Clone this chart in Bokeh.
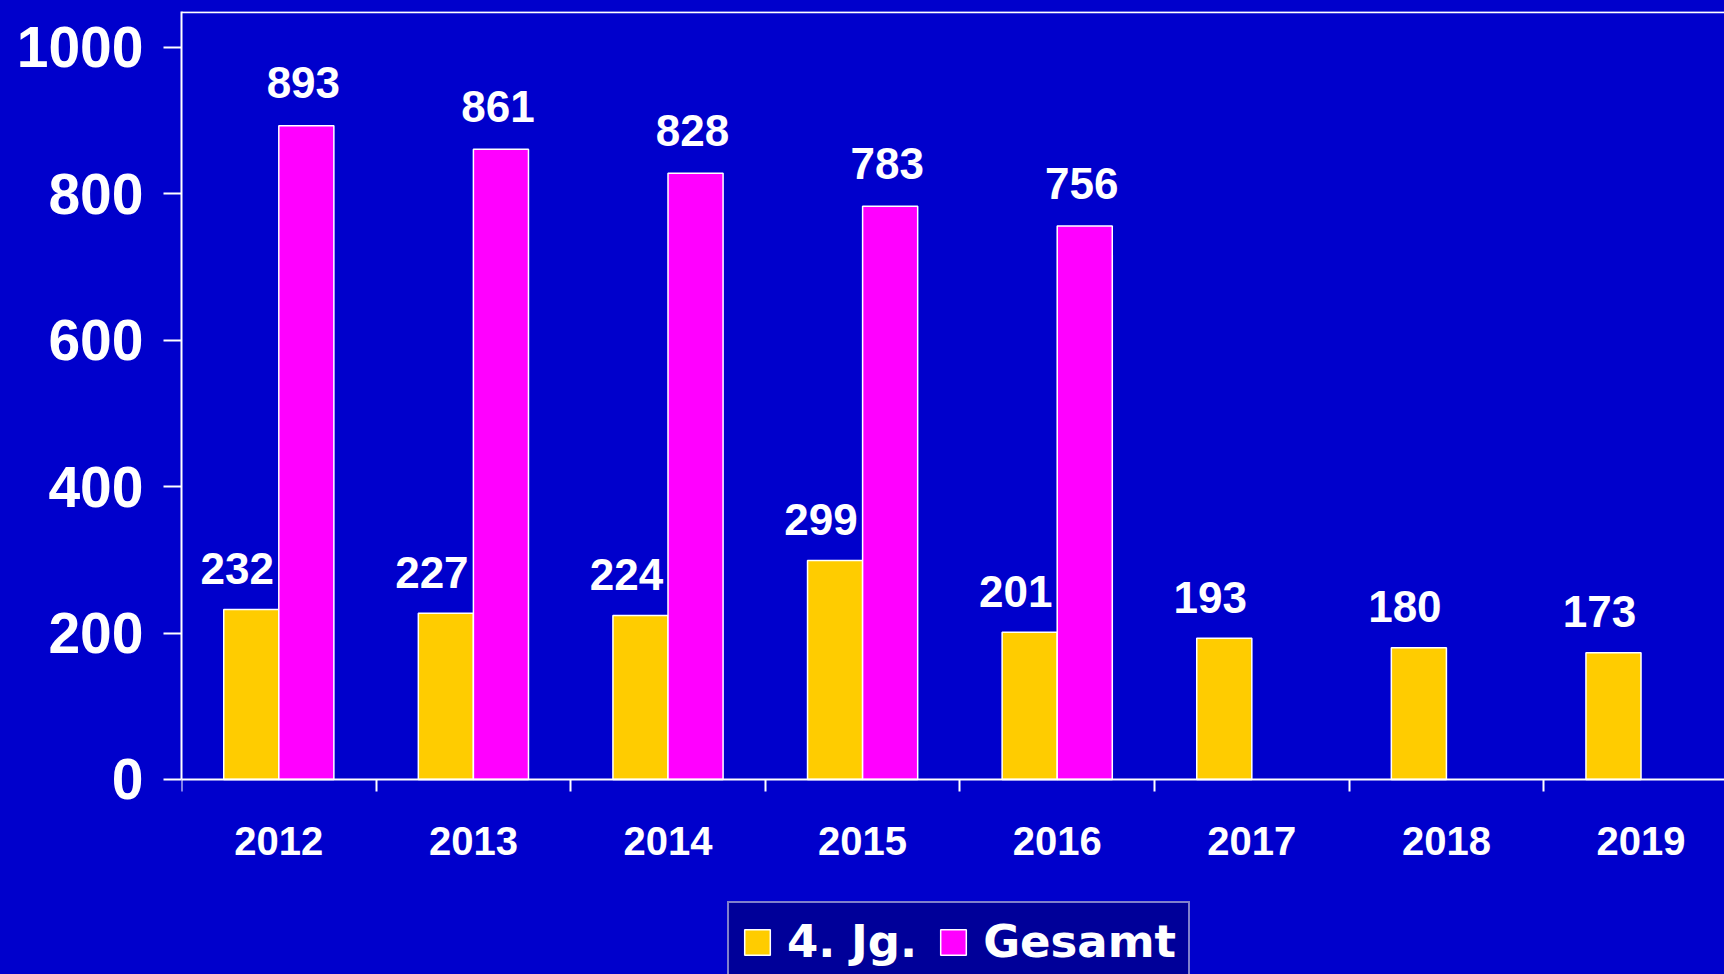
from bokeh.plotting import figure
from bokeh.models import ColumnDataSource, Range1d, FixedTicker, Span, Legend, LegendItem
from bokeh.transform import dodge
from bokeh.core.properties import value
from bokeh.embed import file_html
from bokeh.resources import INLINE

years = ["2012", "2013", "2014", "2015", "2016", "2017", "2018", "2019"]
jg4 = [232, 227, 224, 299, 201, 193, 180, 173]
gesamt = [893, 861, 828, 783, 756]
series_names = ["4. Jg.", "Gesamt"]
y_ticks = [0, 200, 400, 600, 800, 1000]

BG = "#0000CC"
YEL = "#FFCC00"
MAG = "#FF00FF"

xpos = [i + 0.5 for i in range(len(years))]
src1 = ColumnDataSource(dict(x=xpos, v=jg4, lbl=[str(v) for v in jg4]))
src2 = ColumnDataSource(dict(x=xpos[:len(gesamt)], v=gesamt, lbl=[str(v) for v in gesamt]))

# frame reaches the bottom of the canvas; the x axis sits at y=0 inside it
p = figure(width=1724, height=974, x_range=Range1d(0, 7.929), y_range=Range1d(-266.4, 1049),
           output_backend="svg", toolbar_location=None,
           min_border_left=181, min_border_top=11, min_border_right=0, min_border_bottom=0)
p.background_fill_color = BG
p.border_fill_color = BG
p.styles = {"background-color": BG}
p.outline_line_color = None
p.grid.visible = False

bw = 0.283
r1 = p.vbar(x=dodge("x", -bw / 2, range=p.x_range), top="v", width=bw, bottom=0, source=src1,
            fill_color=YEL, line_color="white", line_width=1.5)
r2 = p.vbar(x=dodge("x", bw / 2, range=p.x_range), top="v", width=bw, bottom=0, source=src2,
            fill_color=MAG, line_color="white", line_width=1.5)

lab_font = value("Liberation Sans")
p.text(x=dodge("x", -bw / 2, range=p.x_range), y="v", text="lbl", source=src1,
       text_font=lab_font, text_font_style="bold", text_font_size="44px",
       text_color="white", text_align="center", text_baseline="alphabetic",
       x_offset=-14, y_offset=-41)
p.text(x=dodge("x", bw / 2, range=p.x_range), y="v", text="lbl", source=src2,
       text_font=lab_font, text_font_style="bold", text_font_size="44px",
       text_color="white", text_align="center", text_baseline="alphabetic",
       x_offset=-3, y_offset=-43)

p.add_layout(Span(location=1048, dimension="width", line_color="white", line_width=2))

xa = p.xaxis[0]
xa.fixed_location = 0
xa.ticker = FixedTicker(ticks=xpos, minor_ticks=list(range(len(years) + 1)))
xa.major_label_overrides = {x: y for x, y in zip(xpos, years)}
xa.major_tick_line_color = None
xa.major_tick_out = 12
xa.major_tick_in = 0
xa.minor_tick_out = 12
xa.minor_tick_in = 0
xa.minor_tick_line_color = "white"
xa.minor_tick_line_width = 2
xa.axis_line_color = "white"
xa.axis_line_width = 2
xa.major_label_text_font = "Liberation Sans"
xa.major_label_text_font_style = "bold"
xa.major_label_text_font_size = "40px"
xa.major_label_text_color = "white"
xa.major_label_standoff = 36

ya = p.yaxis[0]
ya.bounds = (0, 1049)
ya.ticker = FixedTicker(ticks=y_ticks)
ya.major_tick_out = 18
ya.major_tick_in = 0
ya.major_tick_line_color = "white"
ya.major_tick_line_width = 2
ya.minor_tick_line_color = None
ya.axis_line_color = "white"
ya.axis_line_width = 2
ya.major_label_text_font = "Liberation Sans"
ya.major_label_text_font_style = "bold"
ya.major_label_text_font_size = "57px"
ya.major_label_text_color = "white"
ya.major_label_standoff = 20

legend = Legend(items=[LegendItem(label=series_names[0], renderers=[r1]),
                       LegendItem(label=series_names[1], renderers=[r2])],
                location=(546, -8), orientation="horizontal",
                background_fill_color="#000099", background_fill_alpha=1.0,
                border_line_color="white", border_line_width=2,
                label_text_font="DejaVu Sans", label_text_font_style="bold",
                label_text_font_size="45px", label_text_color="white",
                glyph_width=32, glyph_height=32, padding=12, spacing=20,
                label_standoff=14, margin=0)
p.add_layout(legend)

open("out.html", "w").write(file_html(p, INLINE))
